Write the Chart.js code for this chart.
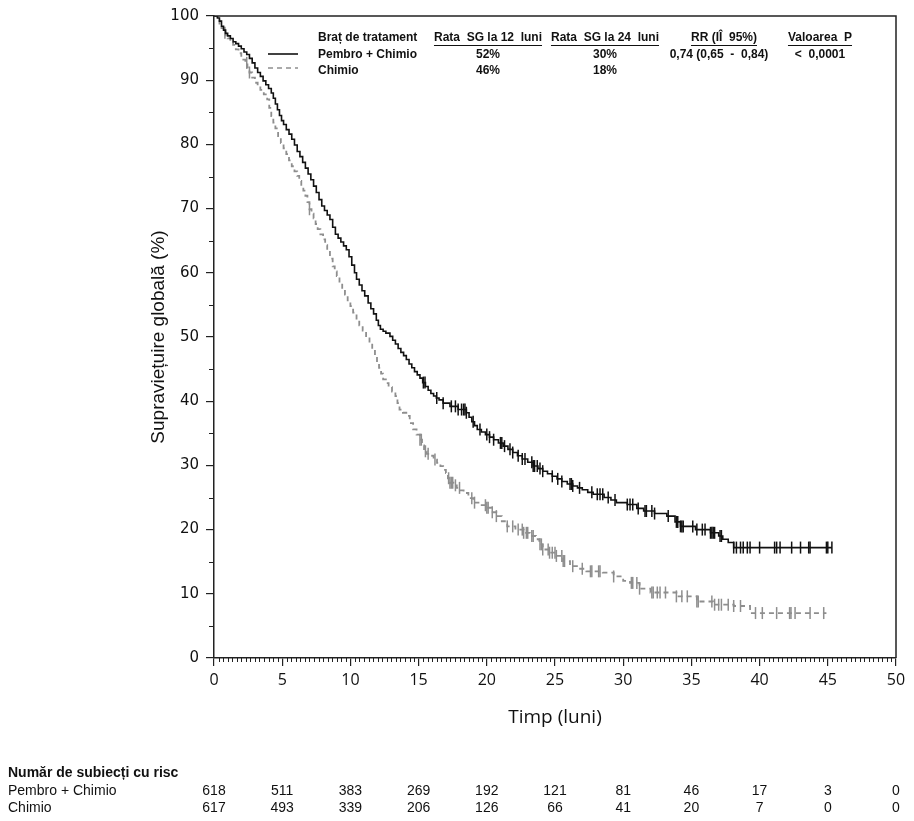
<!DOCTYPE html>
<html>
<head>
<meta charset="utf-8">
<script src="https://cdn.jsdelivr.net/npm/chart.js@4"></script>
<style>
html,body{margin:0;padding:0;background:#fff;}
#wrap{position:relative;width:914px;height:821px;}
canvas{display:block;}
</style>
</head>
<body>
<div id="wrap"><canvas id="c" width="914" height="821"></canvas></div>
<script>
// ---------- DATA ----------
const pembroTime = [0,0.25,0.4,0.55,0.7,0.85,1.0,1.2,1.4,1.6,1.8,2.0,2.2,2.4,2.6,2.8,3.0,3.2,3.4,3.6,3.8,4.0,4.2,4.35,4.5,4.65,4.8,4.95,5.1,5.3,5.5,5.7,5.9,6.1,6.3,6.5,6.7,6.9,7.1,7.3,7.5,7.7,7.9,8.1,8.3,8.5,8.7,8.9,9.1,9.3,9.5,9.7,9.9,10.1,10.3,10.45,10.65,10.85,11.05,11.3,11.5,11.7,11.9,12.05,12.2,12.4,12.6,12.9,13.1,13.3,13.5,13.7,13.9,14.1,14.3,14.5,14.7,14.9,15.1,15.3,15.5,15.7,15.9,16.1,16.3,16.5,16.8,17.3,17.9,18.5,18.7,18.9,19.1,19.3,19.6,19.9,20.2,20.5,20.85,21.2,21.55,21.9,22.25,22.6,23.0,23.4,23.75,24.1,24.45,24.8,25.15,25.5,25.9,26.3,26.65,27.0,27.4,27.8,28.6,29.1,29.5,30.3,31.0,31.5,32.3,33.2,33.8,34.2,35.3,36.4,37.0,37.3,37.7,38.1,45.3];
const pembroSurv = [100,99.7,99.2,98.4,97.8,97.3,96.9,96.5,96.0,95.7,95.3,94.9,94.4,94.0,93.4,92.7,91.9,91.2,90.6,89.9,89.3,88.7,88.0,87.2,86.3,85.4,84.5,83.7,83.1,82.3,81.6,80.8,79.9,78.9,78.1,77.2,76.3,75.4,74.5,73.5,72.5,71.4,70.4,69.7,69.0,68.3,67.1,66.0,65.4,64.8,64.2,63.6,62.5,61.2,60.0,59.0,58.1,57.2,56.4,55.3,54.4,53.6,52.6,51.8,51.2,50.9,50.6,50.1,49.5,48.9,48.2,47.6,47.1,46.5,45.8,45.2,44.6,44.1,43.6,42.9,42.3,41.7,41.2,40.8,40.5,40.2,39.7,39.2,38.7,38.2,37.5,36.8,36.2,35.6,35.2,34.8,34.4,34.0,33.5,33.0,32.5,32.0,31.5,31.0,30.5,29.9,29.5,29.1,28.7,28.3,27.9,27.5,27.1,26.8,26.5,26.2,25.8,25.5,25.0,24.6,24.2,23.9,23.3,22.9,22.5,22.1,21.2,20.5,20.0,19.5,19.0,18.5,18.0,17.2,17.2];

const chimioTime = [0,0.25,0.4,0.55,0.7,0.85,1.0,1.2,1.4,1.6,1.8,2.0,2.15,2.3,2.45,2.6,2.8,3.0,3.2,3.4,3.65,3.9,4.05,4.2,4.35,4.5,4.7,4.9,5.1,5.3,5.5,5.7,5.9,6.1,6.25,6.4,6.55,6.7,6.85,7.0,7.15,7.3,7.45,7.6,7.8,8.0,8.15,8.3,8.5,8.7,8.85,9.0,9.2,9.4,9.6,9.8,10.0,10.2,10.45,10.65,10.9,11.15,11.4,11.6,11.8,11.95,12.1,12.25,12.4,12.6,12.8,13.05,13.3,13.45,13.6,13.85,14.1,14.35,14.6,14.85,15.1,15.25,15.4,15.6,15.8,16.1,16.35,16.6,16.8,17.0,17.15,17.3,17.55,17.8,18.05,18.3,18.65,19.0,19.5,20.0,20.35,20.7,21.1,21.5,22.1,22.7,23.15,23.6,23.85,24.1,24.6,25.1,25.6,26.1,26.7,27.3,28.5,29.3,30.0,30.5,31.2,32.0,33.9,35.4,36.6,38.1,39.3,44.9];
const chimioSurv = [100,99.5,98.8,98.1,97.4,97.0,96.5,96.0,95.5,94.8,94.2,93.6,93.2,92.7,92.0,91.2,90.4,89.6,89.0,88.5,87.8,87.0,85.7,84.4,83.4,82.5,81.3,80.2,79.4,78.5,77.5,76.6,75.8,75.1,74.3,73.5,72.8,72.0,71.0,69.9,69.2,68.5,67.6,66.8,66.0,65.2,64.3,63.5,62.2,61.0,60.2,59.5,58.4,57.5,56.6,55.7,54.8,53.8,52.7,51.8,51.0,50.0,49.1,48.0,47.0,46.1,45.2,44.3,43.4,42.8,42.2,41.5,40.8,39.7,38.7,38.2,37.7,36.6,35.6,34.8,34.0,33.1,32.2,31.8,31.5,30.9,30.4,29.9,29.3,28.8,28.0,27.3,26.9,26.5,26.1,25.7,24.9,24.2,23.8,23.4,22.7,22.1,21.3,20.5,20.0,19.5,19.0,18.5,17.7,16.9,16.4,15.9,15.1,14.3,13.9,13.5,13.3,12.7,12.0,11.7,10.8,10.2,9.6,8.8,8.3,8.1,7.0,7.0];

const pembroCensorTime = [15.35,15.47,16.33,16.8,17.4,17.7,17.9,18.15,18.3,18.4,18.5,19.0,19.5,20.0,20.2,20.5,21.0,21.1,21.3,21.7,21.9,22.3,22.6,22.8,23.3,23.4,23.5,23.7,23.9,24.1,24.8,25.2,25.5,26.1,26.2,26.3,26.8,27.7,28.1,28.3,28.5,28.9,29.4,30.3,30.5,30.7,31.1,31.6,31.7,32.1,32.3,33.3,33.9,34.0,34.2,34.3,34.4,35.1,35.4,35.8,36.0,36.4,36.5,36.6,36.7,37.1,37.2,38.1,38.3,38.6,38.8,39.1,39.3,40.0,41.1,41.25,41.5,42.35,43.0,43.6,43.7,44.9,45.0,45.3];
const pembroCensorSurv = [42.9,42.9,40.5,39.7,39.2,39.2,38.7,38.7,38.7,38.7,38.2,36.8,35.6,34.8,34.4,34.0,33.5,33.5,33.0,32.5,32.0,31.5,31.0,31.0,30.5,29.9,29.9,29.9,29.5,29.1,28.3,27.9,27.5,27.1,27.1,26.8,26.5,25.8,25.5,25.5,25.5,25.0,24.6,23.9,23.9,23.9,23.3,22.9,22.9,22.9,22.5,22.1,21.2,21.2,20.5,20.5,20.5,20.5,20.0,20.0,20.0,19.5,19.5,19.5,19.5,19.0,19.0,17.2,17.2,17.2,17.2,17.2,17.2,17.2,17.2,17.2,17.2,17.2,17.2,17.2,17.2,17.2,17.2,17.2];

const chimioCensorTime = [0.8,2.4,2.6,7.0,15.1,15.2,15.5,15.7,16.2,17.2,17.3,17.4,17.5,17.7,18.0,18.9,19.1,19.9,20.0,20.1,20.4,20.7,21.5,21.9,22.3,22.6,22.7,22.9,23.0,23.3,23.4,23.9,24.0,24.1,24.5,24.6,24.8,25.0,25.1,25.5,25.6,25.7,26.3,27.0,27.6,27.7,28.2,28.3,29.3,30.6,30.7,31.0,31.2,32.1,32.2,32.5,32.7,33.1,33.9,34.3,34.7,35.4,35.5,36.5,36.7,37.0,37.2,37.7,38.1,38.6,39.7,40.2,41.25,42.2,42.3,42.6,43.7,44.7];
const chimioCensorSurv = [97.4,92.7,91.2,69.9,34.0,34.0,32.2,31.8,30.9,28.0,27.3,27.3,27.3,26.9,26.5,24.9,24.2,23.8,23.4,23.4,22.7,22.1,20.5,20.5,20.0,20.0,19.5,19.5,19.5,19.0,19.0,17.7,17.7,16.9,16.9,16.4,16.4,16.4,15.9,15.9,15.1,15.1,14.3,13.9,13.5,13.5,13.5,13.5,12.7,11.7,11.7,11.7,10.8,10.2,10.2,10.2,10.2,10.2,9.6,9.6,9.6,8.8,8.8,8.8,8.3,8.3,8.3,8.3,8.1,8.1,7.0,7.0,7.0,7.0,7.0,7.0,7.0,7.0];

const xTickValues = [0,5,10,15,20,25,30,35,40,45,50];
const yTickValues = [0,10,20,30,40,50,60,70,80,90,100];

const armNames = ['Pembro + Chimio','Chimio'];
const legendHeaders = ['Braț de tratament','Rata  SG la 12  luni','Rata  SG la 24  luni','RR (IÎ  95%)','Valoarea  P'];
const rate12 = ['52%','46%'];
const rate24 = ['30%','18%'];
const hrText = ['0,74 (0,65  -  0,84)',''];
const pText = ['<  0,0001',''];

const riskTitle = 'Număr de subiecți cu risc';
const riskTimes = [0,5,10,15,20,25,30,35,40,45,50];
const riskPembro = [618,511,383,269,192,121,81,46,17,3,0];
const riskChimio = [617,493,339,206,126,66,41,20,7,0,0];

const xTitle = 'Timp (luni)';
const yTitle = 'Supraviețuire globală (%)';

// ---------- STYLE ----------
const BLACK = '#111111';
const GRAY = '#8e8e8e';
const AXIS = '#222222';

function pts(t, s){ return t.map((v,i)=>({x:v, y:s[i]})); }

const decor = {
  id: 'decor',
  afterDraw(chart){
    const {ctx, chartArea:a, scales:{x, y}} = chart;
    ctx.save();
    // frame top / right
    ctx.strokeStyle = AXIS; ctx.lineWidth = 1.5;
    ctx.beginPath();
    ctx.moveTo(a.left, a.top); ctx.lineTo(a.right, a.top); ctx.lineTo(a.right, a.bottom);
    ctx.stroke();
    // minor ticks
    ctx.lineWidth = 1;
    ctx.beginPath();
    for (let i = 1; i < 150; i++) {
      if (i % 15 === 0) continue;
      const px = Math.round(x.getPixelForValue(i/3)) + 0.5;
      ctx.moveTo(px, a.bottom); ctx.lineTo(px, a.bottom + 4);
    }
    for (let v = 5; v < 100; v += 10) {
      const py = Math.round(y.getPixelForValue(v)) + 0.5;
      ctx.moveTo(a.left - 5, py); ctx.lineTo(a.left, py);
    }
    ctx.stroke();

    // legend block
    const legFont = 'bold 12px "Liberation Sans Narrow", "Liberation Sans", Arial, sans-serif';
    ctx.font = legFont; ctx.fillStyle = BLACK; ctx.textBaseline = 'middle';
    const rowY = [38, 55, 71];
    const colC = [488, 605, 724, 820];
    ctx.textAlign = 'left';
    ctx.fillText(legendHeaders[0], 318, rowY[0]);
    ctx.textAlign = 'center';
    ctx.strokeStyle = BLACK; ctx.lineWidth = 1;
    for (let c = 1; c < legendHeaders.length; c++) {
      ctx.fillText(legendHeaders[c], colC[c-1], rowY[0]);
      const w = ctx.measureText(legendHeaders[c]).width;
      ctx.beginPath();
      ctx.moveTo(colC[c-1] - w/2, rowY[0] + 7.5); ctx.lineTo(colC[c-1] + w/2, rowY[0] + 7.5);
      ctx.stroke();
    }
    for (let r = 0; r < 2; r++) {
      ctx.textAlign = 'left';
      ctx.fillText(armNames[r], 318, rowY[r+1]);
      ctx.textAlign = 'center';
      ctx.fillText(rate12[r], colC[0], rowY[r+1]);
      ctx.fillText(rate24[r], colC[1], rowY[r+1]);
      ctx.fillText(hrText[r], colC[2] - 5, rowY[r+1]);
      ctx.fillText(pText[r], colC[3], rowY[r+1]);
    }
    // legend samples
    ctx.lineWidth = 1.6; ctx.strokeStyle = BLACK; ctx.setLineDash([]);
    ctx.beginPath(); ctx.moveTo(268, 54); ctx.lineTo(298, 54); ctx.stroke();
    ctx.strokeStyle = GRAY; ctx.setLineDash([5,4]);
    ctx.beginPath(); ctx.moveTo(268, 68); ctx.lineTo(298, 68); ctx.stroke();
    ctx.setLineDash([]);

    // risk table
    ctx.fillStyle = BLACK;
    ctx.textAlign = 'left';
    ctx.font = 'bold 14px "Liberation Sans", Arial, sans-serif';
    ctx.fillText(riskTitle, 8, 773);
    ctx.font = '14px "Liberation Sans", Arial, sans-serif';
    ctx.fillText(armNames[0], 8, 791);
    ctx.fillText(armNames[1], 8, 808);
    ctx.textAlign = 'center';
    riskTimes.forEach((t, i) => {
      const px = x.getPixelForValue(t);
      ctx.fillText(String(riskPembro[i]), px, 791);
      ctx.fillText(String(riskChimio[i]), px, 808);
    });
    ctx.restore();
  }
};

new Chart(document.getElementById('c'), {
  type: 'line',
  data: {
    datasets: [
      { label: armNames[0], data: pts(pembroTime, pembroSurv), borderColor: BLACK, borderWidth: 1.6,
        stepped: 'before', pointRadius: 0, fill: false },
      { label: armNames[1], data: pts(chimioTime, chimioSurv), borderColor: GRAY, borderWidth: 1.8,
        borderDash: [5,4], stepped: 'before', pointRadius: 0, fill: false },
      { label: 'cens1', data: pts(pembroCensorTime, pembroCensorSurv), showLine: false,
        pointStyle: 'line', rotation: 90, pointRadius: 6, pointBorderWidth: 1.5,
        borderColor: BLACK, pointBorderColor: BLACK, pointHoverRadius: 6 },
      { label: 'cens2', data: pts(chimioCensorTime, chimioCensorSurv), showLine: false,
        pointStyle: 'line', rotation: 90, pointRadius: 6, pointBorderWidth: 1.5,
        borderColor: GRAY, pointBorderColor: GRAY, pointHoverRadius: 6 }
    ]
  },
  options: {
    responsive: false,
    animation: false,
    devicePixelRatio: 1,
    events: [],
    layout: { padding: { left: 143, right: 18, top: 16, bottom: 88 } },
    plugins: { legend: { display: false }, tooltip: { enabled: false } },
    scales: {
      x: {
        type: 'linear', min: 0, max: 50,
        afterBuildTicks: s => { s.ticks = xTickValues.map(v => ({ value: v })); },
        afterFit: s => { s.height = 75; },
        ticks: { autoSkip: false, maxRotation: 0, padding: 5, color: BLACK,
                 font: { family: '"Open Sans", "Liberation Sans", sans-serif', size: 16 } },
        grid: { drawOnChartArea: false, drawTicks: true, tickLength: 8, color: AXIS, lineWidth: 1.2 },
        border: { display: true, color: AXIS, width: 1.5 },
        title: { display: true, text: xTitle, color: BLACK, padding: { top: 0, bottom: 4 },
                 font: { family: '"Open Sans", "Liberation Sans", sans-serif', size: 19 } }
      },
      y: {
        type: 'linear', min: 0, max: 100,
        afterBuildTicks: s => { s.ticks = yTickValues.map(v => ({ value: v })); },
        afterFit: s => { s.width = 71; },
        ticks: { autoSkip: false, padding: 7, color: BLACK,
                 font: { family: '"DejaVu Sans", sans-serif', size: 15 } },
        grid: { drawOnChartArea: false, drawTicks: true, tickLength: 8, color: AXIS, lineWidth: 1.2 },
        border: { display: true, color: AXIS, width: 1.5 },
        title: { display: true, text: yTitle, color: BLACK, padding: { top: 4, bottom: 0 },
                 font: { family: '"Liberation Sans", Arial, sans-serif', size: 19 } }
      }
    }
  },
  plugins: [decor]
});
</script>
</body>
</html>
